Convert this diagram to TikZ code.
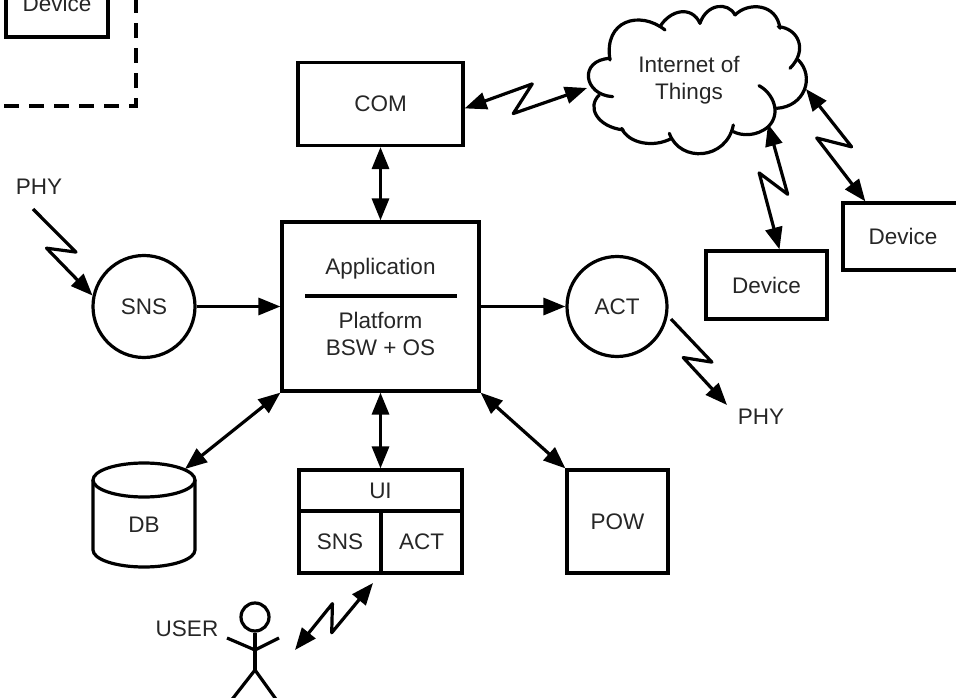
\documentclass[tikz,border=0pt]{standalone}
\usepackage{fontspec}
\setmainfont{Liberation Sans}
\usepackage{tikz}
\usetikzlibrary{arrows.meta,%
  calc
}

\tikzset{
    every node/.style={font=\fontsize{22.5}{27}\selectfont,text=black!85,inner sep=0pt,align=center},
    line/.style={line width=3.2pt,line join=round},
    box/.style={draw,line width=3.2pt,rectangle,minimum width=#1},
    round/.style={draw,line width=3.2pt,circle,minimum size=#1},
    uni/.style={line,-{Triangle[length=22pt,width=17pt]}},
    bi/.style={line,{Triangle[length=22pt,width=17pt]}-{Triangle[length=22pt,width=17pt]}},
    zap/.style={to path={
        -- ($(\tikztostart)!.57!(\tikztotarget)!.244!90:(\tikztotarget)$)
        -- ($(\tikztostart)!.38!(\tikztotarget)!.17!-90:(\tikztotarget)$)
        -- (\tikztotarget)}}
}

\begin{document}
\begin{tikzpicture}[x=1pt,y=-1pt]
            \clip (0,0) rectangle (956,698);

            \node[box=165pt,minimum height=83pt] (com) at (380.5,104) {COM};
            \node[box=197pt,minimum height=169pt] (app) at (380.5,306.5) {};
            \node[round=102pt] (sns) at (144,306.5) {SNS};
            \node[round=100pt] (act) at (617,306.5) {ACT};
            \node[box=101pt,minimum height=103pt] (pow) at (617.5,521.5) {POW};

            \node (db) at (144,525) {DB};
            \draw[line] (144,480) ellipse (51pt and 17pt);
            \draw[line] (93,480) -- (93,550) arc (180:360:51pt and 17pt) -- (195,480);
            \coordinate (dbin) at (185,469);

            \node (applabel) at (380.5,268.5) {Application};
            \node (platlabel) at (380.5,333.5) {Platform\\BSW + OS};
            \draw[line] (305,296) -- (457,296);

            \node[box=163pt,minimum height=41pt] (ui) at (380.5,490.5) {UI};
            \node[box=82pt,minimum height=62pt] (uisns) at (340,542) {SNS};
            \node[box=81pt,minimum height=62pt] (uiact) at (421.5,542) {ACT};

            \node[box=102pt,minimum height=68pt] (deva) at (57,3) {Device};
            \node[box=121pt,minimum height=68pt] (devb) at (766.5,285) {Device};
            \node[box=120pt,minimum height=67pt] (devc) at (903,236.5) {Device};
            \draw[line,line join=miter,dash pattern=on 15pt off 10pt] (4,106) -- (136,106) -- (136,-10);

            \node (cloud) at (689,80.5) {Internet of\\Things};
            \begin{scope}[shift={(560,0)},x=.3333pt,y=-.3333pt]
                \draw[line,line cap=round] (150,180) .. controls (130,60) and (240,30) .. (315,90);
                \draw[line,line cap=round] (300,80) .. controls (330,30) and (395,15) .. (420,70);
                \draw[line,line cap=round] (420,70) .. controls (440,10) and (505,5) .. (525,45);
                \draw[line,line cap=round] (525,45) .. controls (565,5) and (650,10) .. (660,85);
                \draw[line,line cap=round] (655,80) .. controls (715,85) and (745,150) .. (690,205);
                \draw[line,line cap=round] (715,180) .. controls (765,230) and (735,320) .. (650,325);
                \draw[line,line cap=round] (597,257) .. controls (640,280) and (665,340) .. (625,380) .. controls (590,410) and (545,408) .. (520,395);
                \draw[line,line cap=round] (520,375) .. controls (500,480) and (360,490) .. (328,400);
                \draw[line,line cap=round] (335,415) .. controls (280,445) and (205,430) .. (185,385);
                \draw[line,line cap=round] (190,390) .. controls (110,380) and (80,320) .. (118,285);
                \draw[line,line cap=round] (158,290) .. controls (70,285) and (55,180) .. (150,175);
            \end{scope}
            \coordinate (cloudw) at (587,88);
            \coordinate (clouds) at (768,124);
            \coordinate (cloude) at (806,89);

            \node (phya) at (39,187) {PHY};
            \node (phyb) at (761,417) {PHY};
            \coordinate (phyaout) at (33,209);
            \coordinate (actout) at (671,319);
            \coordinate (phybin) at (727,405);

            \node (userlabel) at (187,629) {USER};
            \node[draw,line width=3.2pt,circle,minimum size=28pt] (head) at (255,617) {};
            \coordinate (hip) at (255,670);
            \coordinate (neck) at (255,650);
            \draw[line] (head) -- (hip);
            \draw[line] (227,638) -- (neck) -- (279,638);
            \draw[line] (230,702) -- (hip) -- (278,702);
            \coordinate (userout) at (295,650);
            \coordinate (uiin) at (373,583);

            \draw[bi] (com) -- (app);
            \draw[uni] (sns) -- (app);
            \draw[uni] (app) -- (act);
            \draw[bi] (app) -- (ui);
            \draw[bi] (app.south west) -- (dbin);
            \draw[bi] (app.south east) -- (pow.north west);

            \foreach \from/\to in {com.-3/cloudw,clouds/devb.70,cloude/devc.137,userout/uiin} {
                \draw[bi,zap] (\from) to (\to);
            }
            \foreach \from/\to in {phyaout/sns.168,actout/phybin} {
                \draw[uni,zap] (\from) to (\to);
            }
\end{tikzpicture}
\end{document}
